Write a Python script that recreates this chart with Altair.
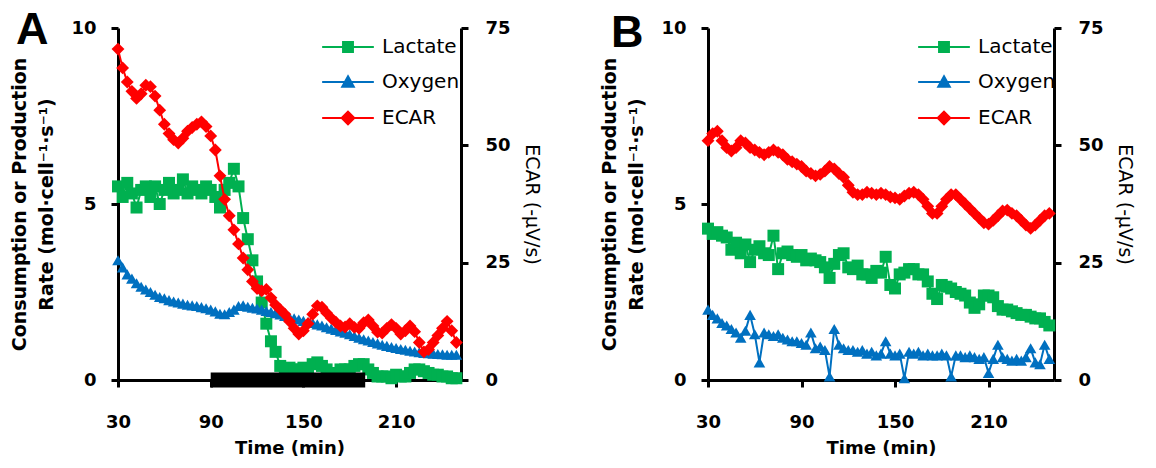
import altair as alt
import pandas as pd

TIME = [30, 33, 36, 39, 42, 45, 48, 51, 54, 57,
        60, 63, 66, 69, 72, 75, 78, 81, 84, 87,
        90, 93, 96, 99, 102, 105, 108, 111, 114, 117,
        120, 123, 126, 129, 132, 135, 138, 141, 144, 147,
        150, 153, 156, 159, 162, 165, 168, 171, 174, 177,
        180, 183, 186, 189, 192, 195, 198, 201, 204, 207,
        210, 213, 216, 219, 222, 225, 228, 231, 234, 237,
        240, 243, 246, 249]

A_LACTATE = [5.5, 5.2, 5.6, 5.3, 4.9, 5.4, 5.5, 5.2, 5.5, 5.0,
             5.4, 5.6, 5.3, 5.4, 5.7, 5.3, 5.5, 5.4, 5.3, 5.5,
             5.4, 5.2, 4.9, 5.4, 5.6, 6.0, 5.5, 4.6, 4.0, 3.4,
             2.8, 2.2, 1.6, 1.1, 0.8, 0.4, 0.2, 0.35, 0.3, 0.3,
             0.35, 0.3, 0.45, 0.5, 0.4, 0.3, 0.15, 0.2, 0.3, 0.3,
             0.3, 0.4, 0.45, 0.45, 0.3, 0.2, 0.1, 0.1, 0.1, 0.05,
             0.15, 0.1, 0.1, 0.2, 0.3, 0.3, 0.25, 0.2, 0.15, 0.15,
             0.1, 0.1, 0.05, 0.05]
A_OXYGEN = [3.4, 3.2, 3.0, 2.88, 2.75, 2.65, 2.57, 2.5, 2.42, 2.36,
            2.32, 2.27, 2.23, 2.2, 2.17, 2.14, 2.12, 2.1, 2.07, 2.04,
            2.0, 1.95, 1.88, 1.87, 1.93, 2.0, 2.1, 2.12, 2.08, 2.05,
            2.03, 2.0, 1.96, 1.93, 1.9, 1.86, 1.82, 1.78, 1.75, 1.72,
            1.68, 1.65, 1.62, 1.58, 1.55, 1.5, 1.46, 1.42, 1.38, 1.34,
            1.3, 1.25, 1.2, 1.16, 1.12, 1.08, 1.04, 1.0, 0.97, 0.94,
            0.91, 0.88, 0.86, 0.83, 0.81, 0.79, 0.77, 0.76, 0.75, 0.74,
            0.73, 0.72, 0.72, 0.72]
A_ECAR = [70.5, 66.5, 63.5, 61.5, 60.0, 61.0, 62.8, 62.5, 60.5, 57.5,
          54.5, 52.5, 51.2, 50.5, 51.5, 53.0, 53.8, 54.5, 55.0, 54.0,
          52.0, 49.0, 43.5, 38.5, 35.0, 32.0, 29.0, 26.0, 23.5, 21.0,
          19.5, 19.0, 19.3, 17.5, 16.0, 15.0, 14.0, 12.5, 11.0, 9.8,
          10.5, 12.0, 14.0, 15.8, 15.5, 14.3, 13.2, 12.3, 11.5, 11.3,
          12.0, 11.2, 11.0, 12.2, 12.8, 11.5, 10.2, 10.0, 11.0, 11.8,
          11.0, 9.8, 10.5, 11.5, 10.3, 8.0, 6.0, 6.5, 8.0, 9.5,
          11.0, 12.5, 10.5, 8.0]

B_LACTATE = [4.3, 4.15, 4.2, 4.1, 4.05, 3.7, 3.9, 3.6, 3.85, 3.35,
             3.7, 3.8, 3.6, 3.55, 4.1, 3.15, 3.6, 3.65, 3.55, 3.5,
             3.55, 3.4, 3.45, 3.4, 3.35, 3.2, 2.9, 3.3, 3.55, 3.6,
             3.2, 3.15, 3.25, 3.0, 3.0, 2.9, 3.1, 3.05, 3.5, 2.7,
             2.6, 3.0, 3.05, 3.15, 3.15, 3.0, 3.0, 2.8, 2.45, 2.3,
             2.7, 2.65, 2.6, 2.5, 2.45, 2.4, 2.2, 2.05, 2.15, 2.4,
             2.4, 2.35, 2.1, 2.0, 2.0, 1.95, 1.9, 1.85, 1.85, 1.8,
             1.75, 1.75, 1.65, 1.55]
B_OXYGEN = [2.0, 1.85, 1.75, 1.62, 1.55, 1.45, 1.35, 1.2, 1.4, 1.85,
            1.3, 0.5, 1.35, 1.3, 1.25, 1.3, 1.2, 1.15, 1.1, 1.1,
            1.05, 1.0, 1.35, 0.9, 0.95, 0.85, 0.1, 1.45, 1.0, 0.9,
            0.85, 0.85, 0.8, 0.85, 0.75, 0.8, 0.7, 0.75, 1.1, 0.75,
            0.7, 0.75, 0.05, 0.8, 0.75, 0.8, 0.7, 0.75, 0.7, 0.7,
            0.75, 0.7, 0.1, 0.7, 0.7, 0.65, 0.7, 0.65, 0.6, 0.65,
            0.2, 0.6, 1.0, 0.65, 0.6, 0.55, 0.6, 0.55, 0.65, 0.9,
            0.5, 0.45, 1.0, 0.6]
B_ECAR = [51.0, 52.5, 53.0, 51.0, 49.5, 48.8, 49.5, 51.0, 50.5, 49.5,
          49.0, 48.5, 48.0, 48.5, 49.0, 48.5, 48.0, 47.0, 46.5, 46.0,
          45.5, 44.5, 44.0, 43.5, 43.8, 44.5, 45.5, 45.0, 44.0, 43.2,
          41.5, 40.0, 39.5, 39.5, 40.0, 39.8, 39.5, 39.8, 39.5, 39.0,
          38.8, 38.5, 39.2, 39.8, 40.0, 39.5, 38.5, 37.0, 35.5, 35.5,
          37.0, 38.5, 39.5, 39.5, 38.5, 37.5, 36.5, 35.5, 34.5, 33.5,
          33.2, 34.0, 35.0, 36.0, 36.2, 35.5, 35.0, 34.0, 33.0, 32.3,
          33.0, 34.0, 35.0, 35.5]

SERIES = ["Lactate", "Oxygen", "ECAR"]
COLORS = ["#00B050", "#0070C0", "#FF0000"]
PANEL_LABELS = ["A", "B"]
LEFT_TICKS = [0, 5, 10]
RIGHT_TICKS = [0, 25, 50, 75]
X_TICKS = [30, 90, 150, 210]
BAR_START = [90]
BAR_END = [190]
BAR_LEVEL = [0]

LEGEND_PATHS = [
    "M-4.7,0H4.7M-0.9,-0.9H0.9V0.9H-0.9Z",
    "M-4.7,0H4.7M0,-1.05L1.05,0.85H-1.05Z",
    "M-4.7,0H4.7M-1.15,0L0,-1.15L1.15,0L0,1.15Z",
]

FONT = "DejaVu Sans"
H = 352

common_axis = dict(
    grid=False, domainColor="black", domainWidth=3, tickColor="black",
    tickWidth=3, tickSize=7, labelFont=FONT, labelFontWeight="bold",
    labelFontSize=18, labelColor="black", labelFlush=False,
    titleFont=FONT, titleColor="black",
)

x_axis = alt.Axis(values=X_TICKS, title="Time (min)", labelPadding=26,
                  titlePadding=8, titleFontWeight="bold", titleFontSize=18,
                  **common_axis)
left_axis = alt.Axis(values=LEFT_TICKS,
                     title=["Consumption or Production", "Rate (mol·cell⁻¹·s⁻¹)"],
                     labelPadding=15, titlePadding=14, titleFontWeight="bold",
                     titleFontSize=19, titleLineHeight=27, **common_axis)
right_axis = alt.Axis(values=RIGHT_TICKS, orient="right", title="ECAR (-µV/s)",
                      labelPadding=17, titlePadding=11, titleFontWeight="normal",
                      titleFontSize=19, **common_axis)


def panel(letter, lac, oxy, ecar, legend_x, with_bar, width, letter_x, letter_y):
    df = pd.DataFrame({"time": TIME, "lactate": lac, "oxygen": oxy, "ecar": ecar})
    base = alt.Chart(df)
    xscale = alt.Scale(domain=[30, 252], nice=False, zero=False)
    x = alt.X("time:Q", scale=xscale, axis=x_axis)

    def yl(field):
        return alt.Y(f"{field}:Q", scale=alt.Scale(domain=[0, 10], nice=False),
                     axis=left_axis)

    def yr(field):
        return alt.Y(f"{field}:Q", scale=alt.Scale(domain=[0, 75], nice=False),
                     axis=right_axis)

    left_layers = [
        base.mark_line(color=COLORS[0], strokeWidth=2).encode(x=x, y=yl("lactate")),
        base.mark_point(shape="square", filled=True, size=144, color=COLORS[0],
                        opacity=1).encode(x=x, y=yl("lactate")),
        base.mark_line(color=COLORS[1], strokeWidth=2).encode(x=x, y=yl("oxygen")),
        base.mark_point(shape="triangle-up", filled=True, size=135, color=COLORS[1],
                        opacity=1).encode(x=x, y=yl("oxygen")),
    ]
    if with_bar:
        bar_df = pd.DataFrame({"start": BAR_START, "end": BAR_END, "level": BAR_LEVEL})
        left_layers.append(
            alt.Chart(bar_df).mark_rule(color="black", strokeWidth=15, strokeCap="butt")
            .encode(x=alt.X("start:Q", scale=xscale, axis=x_axis),
                    x2="end:Q", y=yl("level"))
        )
    left = alt.layer(*left_layers)
    right = alt.layer(
        base.mark_line(color=COLORS[2], strokeWidth=2).encode(x=x, y=yr("ecar")),
        base.mark_point(shape="diamond", filled=True, size=165, color=COLORS[2],
                        opacity=1).encode(x=x, y=yr("ecar")),
    )

    leg_df = pd.DataFrame({"series": SERIES})
    leg = alt.Legend(orient="none", legendX=legend_x, legendY=9, title=None,
                     labelFont=FONT, labelFontSize=20, labelColor="black",
                     symbolSize=121, symbolStrokeWidth=2, labelOffset=24,
                     rowPadding=15, symbolOpacity=1)
    legend_layer = alt.Chart(leg_df).mark_point(filled=True, opacity=1).encode(
        shape=alt.Shape("series:N", scale=alt.Scale(domain=SERIES, range=LEGEND_PATHS), legend=leg),
        fill=alt.Fill("series:N", scale=alt.Scale(domain=SERIES, range=COLORS), legend=leg),
        stroke=alt.Stroke("series:N", scale=alt.Scale(domain=SERIES, range=COLORS), legend=leg),
    ).transform_filter("false")

    letter_layer = alt.Chart(pd.DataFrame({"label": [letter]})).mark_text(
        font="Liberation Sans", fontSize=45, fontWeight="bold", color="black",
        align="left", baseline="top",
    ).encode(text="label:N", x=alt.value(letter_x), y=alt.value(letter_y))

    return alt.layer(left, right, legend_layer, letter_layer).resolve_scale(
        y="independent"
    ).properties(width=width, height=H)


pa = panel(PANEL_LABELS[0], A_LACTATE, A_OXYGEN, A_ECAR, 220, True, 343, -102, -20)
pb = panel(PANEL_LABELS[1], B_LACTATE, B_OXYGEN, B_ECAR, 226, False, 346, -97, -17)

chart = alt.hconcat(pa, pb, spacing=247, bounds="flush").resolve_scale(
    shape="independent", fill="independent", stroke="independent"
).resolve_legend(
    shape="independent", fill="independent", stroke="independent"
).properties(
    padding={"left": 10, "top": 8, "right": 5, "bottom": 5}
).configure_view(strokeWidth=0)

chart.save("out.html", embed_options={"renderer": "svg", "actions": False})
